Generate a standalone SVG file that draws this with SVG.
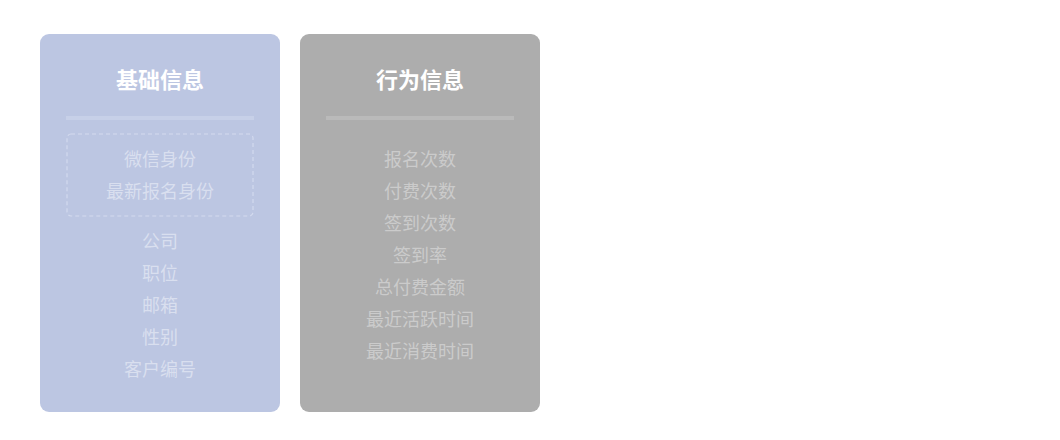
<svg xmlns="http://www.w3.org/2000/svg" width="1060" height="440" viewBox="0 0 1060 440">
<style>
.title{font-family:"Noto Sans CJK SC","Noto Sans",sans-serif;font-size:22px;font-weight:bold;fill:#ffffff;text-anchor:middle}
.item{font-family:"Noto Sans CJK SC","Noto Sans",sans-serif;font-size:18px;text-anchor:middle}
.l{fill:#d9dfef}
.r{fill:#cbcbcb}
</style>
<rect width="1060" height="440" fill="#ffffff"/>
<g id="basic">
<rect x="40" y="34" width="240" height="378" rx="9" fill="#bcc6e2"/>
<text class="title" x="160" y="88">基础信息</text>
<rect x="66" y="116" width="188" height="4" fill="#c7d0e8"/>
<rect x="67" y="134" width="186" height="82" rx="4" fill="none" stroke="#d3daee" stroke-width="1.2" stroke-dasharray="4 3"/>
<text class="item l" x="160" y="166">微信身份</text>
<text class="item l" x="160" y="198">最新报名身份</text>
<text class="item l" x="160" y="248">公司</text>
<text class="item l" x="160" y="280">职位</text>
<text class="item l" x="160" y="312">邮箱</text>
<text class="item l" x="160" y="344">性别</text>
<text class="item l" x="160" y="376">客户编号</text>
</g>
<g id="behavior">
<rect x="300" y="34" width="240" height="378" rx="9" fill="#adadad"/>
<text class="title" x="420" y="88">行为信息</text>
<rect x="326" y="116" width="188" height="4" fill="#bababa"/>
<text class="item r" x="420" y="166">报名次数</text>
<text class="item r" x="420" y="198">付费次数</text>
<text class="item r" x="420" y="230">签到次数</text>
<text class="item r" x="420" y="262">签到率</text>
<text class="item r" x="420" y="294">总付费金额</text>
<text class="item r" x="420" y="326">最近活跃时间</text>
<text class="item r" x="420" y="358">最近消费时间</text>
</g>
<g id="connectors"></g>
</svg>
